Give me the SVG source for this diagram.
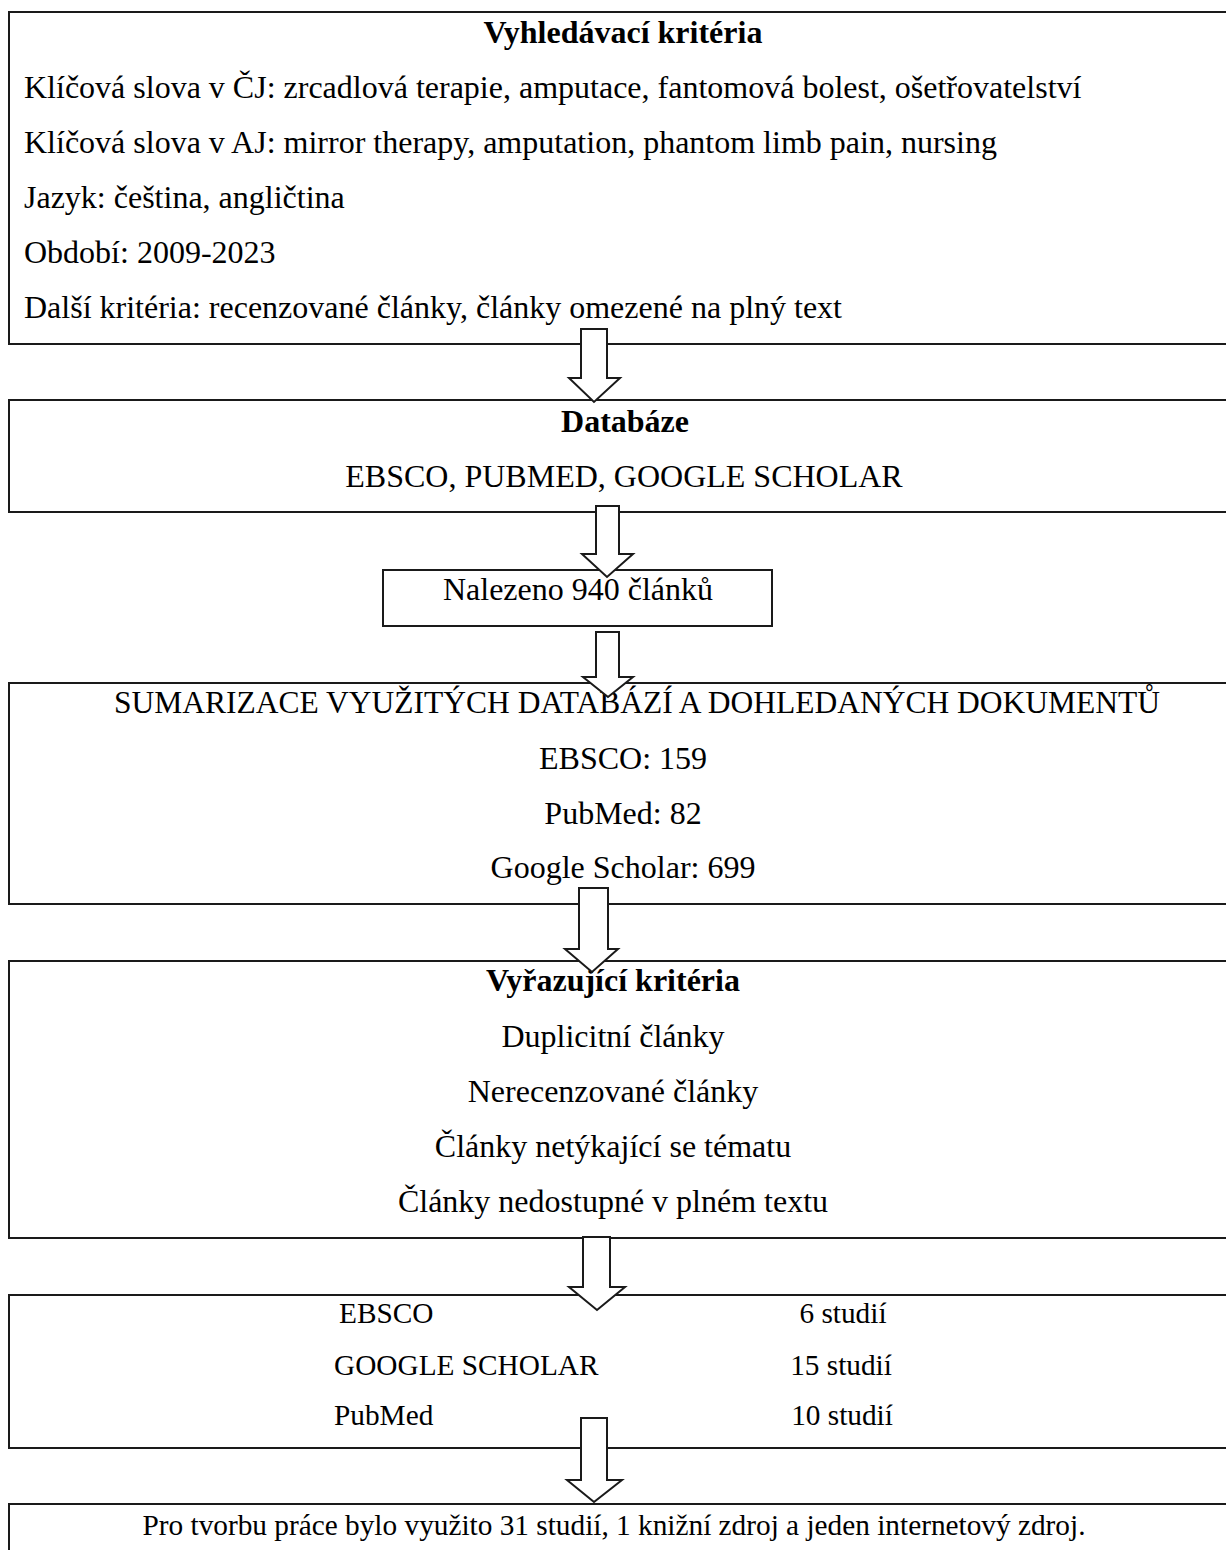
<svg xmlns="http://www.w3.org/2000/svg" width="1226" height="1550" viewBox="0 0 1226 1550">
<style>
.box{fill:#fff;stroke:#1a1a1a;stroke-width:2}
.t{font-family:"Liberation Serif","Times New Roman",serif;font-size:32px;fill:#000}
.c{text-anchor:middle}
.b{font-weight:bold}
.sm{font-size:29.3px}
.arr{fill:#fff;stroke:#1a1a1a;stroke-width:2;stroke-linejoin:miter}
</style>
<rect width="1226" height="1550" fill="#fff"/>
<g id="n1">
<rect class="box" x="9" y="12" width="1230" height="332"/>
<text class="t b c" x="623" y="43">Vyhledávací kritéria</text>
<text class="t" x="24" y="98">Klíčová slova v ČJ: zrcadlová terapie, amputace, fantomová bolest, ošetřovatelství</text>
<text class="t" x="24" y="153">Klíčová slova v AJ: mirror therapy, amputation, phantom limb pain, nursing</text>
<text class="t" x="24" y="208">Jazyk: čeština, angličtina</text>
<text class="t" x="24" y="263">Období: 2009-2023</text>
<text class="t" x="24" y="318">Další kritéria: recenzované články, články omezené na plný text</text>
</g>
<g id="n2">
<rect class="box" x="9" y="400" width="1230" height="112"/>
<text class="t b c" x="625" y="432">Databáze</text>
<text class="t c" x="624" y="487">EBSCO, PUBMED, GOOGLE SCHOLAR</text>
</g>
<g id="n3">
<rect class="box" x="383" y="570" width="389" height="56"/>
<text class="t c" x="578" y="600">Nalezeno 940 článků</text>
</g>
<g id="n4">
<rect class="box" x="9" y="683" width="1230" height="221"/>
<text class="t c" x="637" y="713" style="font-size:31.5px">SUMARIZACE VYUŽITÝCH DATABÁZÍ A DOHLEDANÝCH DOKUMENTŮ</text>
<text class="t c" x="623" y="769">EBSCO: 159</text>
<text class="t c" x="623" y="824">PubMed: 82</text>
<text class="t c" x="623" y="878">Google Scholar: 699</text>
</g>
<g id="n5">
<rect class="box" x="9" y="961" width="1230" height="277"/>
<text class="t b c" x="613" y="991">Vyřazující kritéria</text>
<text class="t c" x="613" y="1047">Duplicitní články</text>
<text class="t c" x="613" y="1102">Nerecenzované články</text>
<text class="t c" x="613" y="1157">Články netýkající se tématu</text>
<text class="t c" x="613" y="1212">Články nedostupné v plném textu</text>
</g>
<g id="n6">
<rect class="box" x="9" y="1295" width="1230" height="153"/>
<text class="t sm" x="339" y="1323">EBSCO</text>
<text class="t sm" x="334" y="1375">GOOGLE SCHOLAR</text>
<text class="t sm" x="334" y="1425">PubMed</text>
<text class="t sm c" x="843" y="1323">6 studií</text>
<text class="t sm c" x="841" y="1375">15 studií</text>
<text class="t sm c" x="842" y="1425">10 studií</text>
</g>
<g id="n7">
<rect class="box" x="9" y="1504" width="1230" height="60"/>
<text class="t sm c" x="614" y="1535">Pro tvorbu práce bylo využito 31 studií, 1 knižní zdroj a jeden internetový zdroj.</text>
</g>
<g id="connectors">
<polygon class="arr" points="581,329 607,329 607,378 620,378 594,402 569,378 581,378"/>
<polygon class="arr" points="596,506 619,506 619,554 633,554 607,577 582,554 596,554"/>
<polygon class="arr" points="596,632 619,632 619,677 633,677 608,697 583,677 596,677"/>
<polygon class="arr" points="579,888 608,888 608,949 618,949 592,972 565,949 579,949"/>
<polygon class="arr" points="583,1237 610,1237 610,1287 625,1287 597,1310 569,1287 583,1287"/>
<polygon class="arr" points="581,1418 607,1418 607,1480 622,1480 594,1502 567,1480 581,1480"/>
</g>
</svg>
